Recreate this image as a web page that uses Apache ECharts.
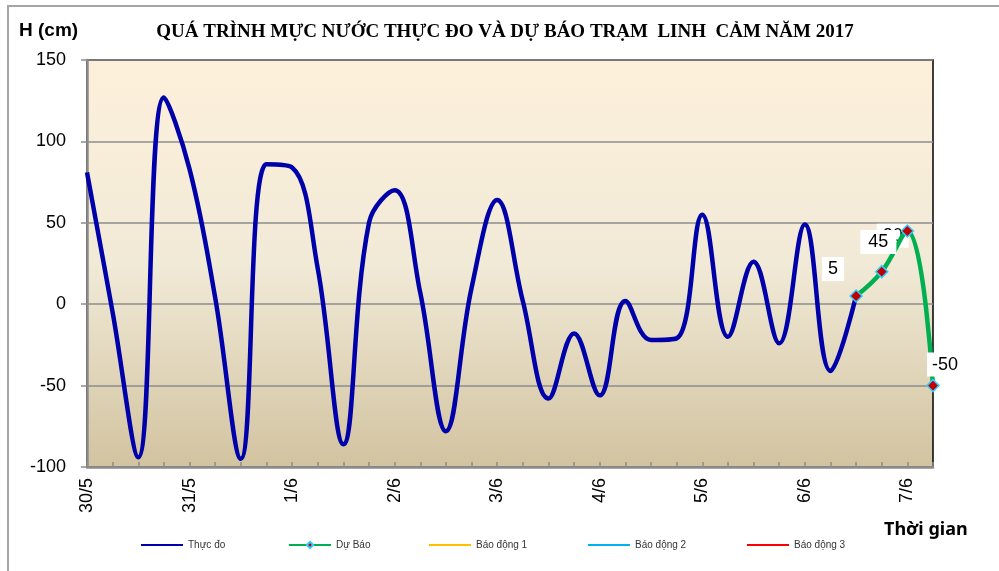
<!DOCTYPE html>
<html>
<head>
<meta charset="utf-8">
<script src="https://cdn.jsdelivr.net/npm/echarts@6/dist/echarts.min.js"></script>
<style>
  html, body { margin: 0; padding: 0; background: #fff; }
  #chart { width: 999px; height: 571px; }
</style>
</head>
<body>
<div id="chart"></div>
<script>
// ngày hiển thị trên trục hoành, mỗi ngày 4 lần đo (6 giờ một lần)
const days = ['30/5', '31/5', '1/6', '2/6', '3/6', '4/6', '5/6', '6/6', '7/6']
const hours = ['00', '06', '12', '18']
const stepCount = 34

// mực nước thực đo (cm)
const observed = [81, -5, -94, 127, 83, 4, -95, 86, 84, 22, -86, 50, 70, 7, -78, 10,
  64, 2, -58, -18, -56, 2, -22, -21, 55, -20, 26, -24, 49, -41, 5]

// mực nước dự báo, bắt đầu từ điểm đo cuối
const forecastStart = 30
const forecast = [5, 20, 45, -50]

const yTicks = { min: -100, max: 150, step: 50 }

const seriesNames = ['Thực đo', 'Dự Báo', 'Báo động 1', 'Báo động 2', 'Báo động 3']

const categories = []
for (let i = 0; i < stepCount; i++) {
  categories.push(days[Math.floor(i / 4)] + ' ' + hours[i % 4])
}

// vị trí nhãn số liệu dự báo; nhãn thứ 2 nằm dưới nhãn "45"
const labelOffsets = [[-23, -27], [11, -36], [-29, 11], [12, -21]]
const labelPadding = [[3, 6], [3, 6], [3, 8], [3, 5]]
const hiddenLabel = 1

const labelStyle = {
  show: true,
  position: 'inside',
  color: '#000',
  fontSize: 18,
  fontFamily: 'Liberation Sans',
  backgroundColor: '#fff'
}

// dữ liệu dự báo, chọn nhãn nào hiện ở chuỗi nào
const buildForecast = (withLabel) => categories.map((c, i) => {
  const k = i - forecastStart
  if (k < 0 || k >= forecast.length) return null
  const item = { value: forecast[k] }
  if (withLabel(k)) {
    item.label = Object.assign({}, labelStyle, {
      offset: labelOffsets[k],
      padding: labelPadding[k],
      formatter: String(forecast[k])
    })
  }
  return item
})

const chart = echarts.init(document.getElementById('chart'))

const legendX = [136, 283, 424, 583, 742]
const legendColors = ['#0000AA', '#00B050', '#FFC000', '#00B0F0', '#FF0000']

const option = {
  animation: false,
  backgroundColor: '#fff',
  title: {
    text: 'QUÁ TRÌNH MỰC NƯỚC THỰC ĐO VÀ DỰ BÁO TRẠM  LINH  CẢM NĂM 2017',
    left: 500,
    textAlign: 'center',
    top: 18,
    textStyle: { fontFamily: 'Liberation Serif', fontWeight: 'bold', fontSize: 19, color: '#000' }
  },
  legend: seriesNames.map((name, i) => ({
    data: [i === 1 ? { name } : { name, icon: 'rect' }],
    left: legendX[i],
    top: 533,
    itemWidth: 42,
    itemHeight: i === 1 ? 8 : 2,
    itemGap: 5,
    lineStyle: { width: 2 },
    textStyle: { fontSize: 10, color: '#333', fontFamily: 'Liberation Sans', lineHeight: 14 }
  })),
  grid: {
    left: 87, right: 66, top: 60, bottom: 104,
    show: true,
    borderColor: '#000',
    borderWidth: 1.5,
    backgroundColor: new echarts.graphic.LinearGradient(0, 0, 0, 1, [
      { offset: 0, color: '#FDF0DB' },
      { offset: 0.5, color: '#F1EAD7' },
      { offset: 1, color: '#D2C3A0' }
    ])
  },
  xAxis: {
    type: 'category',
    data: categories,
    boundaryGap: false,
    axisLine: { onZero: false, lineStyle: { color: '#8C8C8C', width: 2.5 } },
    axisTick: { show: true, inside: true, length: 5, interval: 0, lineStyle: { color: '#8C8C8C', width: 1.5 } },
    axisLabel: {
      interval: 0,
      rotate: 90,
      margin: 11,
      color: '#000',
      fontSize: 18,
      fontFamily: 'Liberation Sans',
      formatter: (val, idx) => (idx % 4 === 0 ? val.split(' ')[0] : '')
    },
    splitLine: { show: false }
  },
  yAxis: {
    type: 'value',
    min: yTicks.min,
    max: yTicks.max,
    interval: yTicks.step,
    axisLine: { show: true, lineStyle: { color: '#8C8C8C', width: 2.5 } },
    axisTick: { show: true, length: 6, lineStyle: { color: '#8C8C8C', width: 1.5 } },
    axisLabel: { margin: 21, color: '#000', fontSize: 18, fontFamily: 'Liberation Sans' },
    splitLine: { lineStyle: { color: '#8C8C8C', width: 1.5 } }
  },
  graphic: [
    {
      type: 'text', left: 19, top: 21,
      style: { text: 'H (cm)', font: 'bold 19px "Liberation Sans"', fill: '#000' }
    },
    {
      type: 'text', left: 884, top: 521,
      style: { text: 'Thời gian', font: 'bold 18px "Noto Sans"', fill: '#000' }
    },
    {
      type: 'polyline',
      shape: { points: [[8, 600], [8, 6], [1010, 6]] },
      style: { stroke: '#A6A6A6', lineWidth: 2, fill: null },
      silent: true
    }
  ],
  series: [
    {
      name: seriesNames[0],
      type: 'line',
      data: observed,
      smooth: 0.4,
      symbol: 'none',
      z: 3,
      lineStyle: { color: legendColors[0], width: 4.5 },
      itemStyle: { color: legendColors[0] }
    },
    {
      // chỉ mang nhãn bị che một phần
      name: 'nhãn phụ',
      type: 'line',
      data: buildForecast(k => k === hiddenLabel),
      symbol: 'circle',
      symbolSize: 1,
      showAllSymbol: true,
      itemStyle: { color: 'rgba(0,0,0,0)' },
      lineStyle: { opacity: 0 },
      z: 2
    },
    {
      name: seriesNames[1],
      type: 'line',
      data: buildForecast(k => k !== hiddenLabel),
      smooth: 0.4,
      symbol: 'diamond',
      symbolSize: 12,
      showAllSymbol: true,
      z: 4,
      lineStyle: { color: legendColors[1], width: 4.5 },
      itemStyle: { color: '#C00000', borderColor: '#33CCFF', borderWidth: 1.5 }
    },
    ...[2, 3, 4].map(i => ({
      name: seriesNames[i],
      type: 'line',
      data: [],
      symbol: 'none',
      lineStyle: { color: legendColors[i], width: 2 },
      itemStyle: { color: legendColors[i] }
    }))
  ]
}

chart.setOption(option)
</script>
</body>
</html>
